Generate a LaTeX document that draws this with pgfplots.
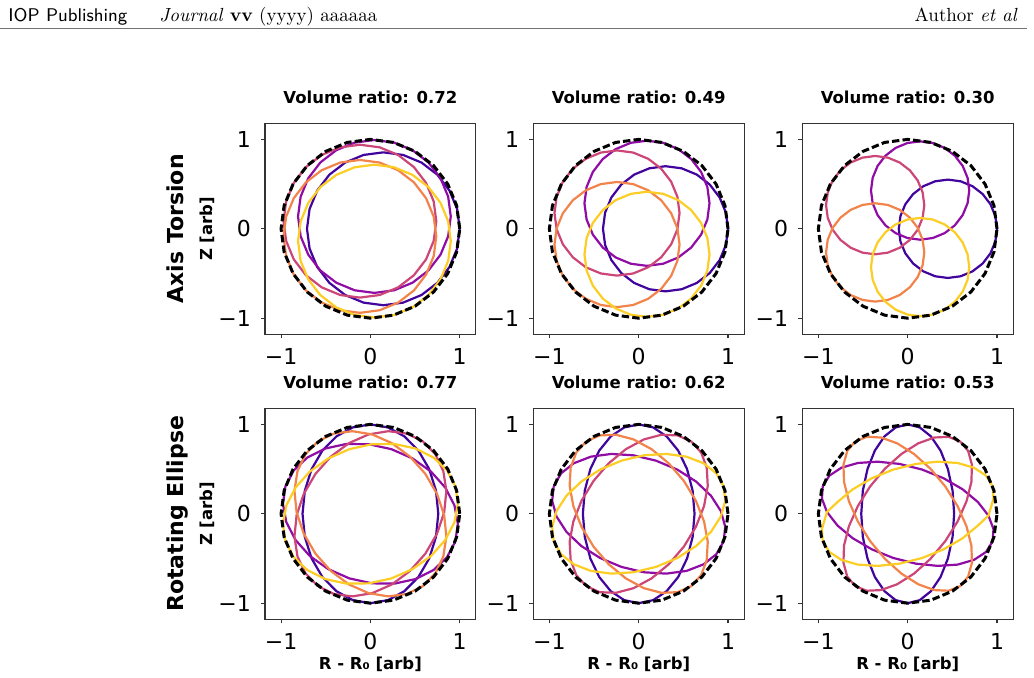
\documentclass[border=0pt]{standalone}
\usepackage{pgfplots}
\pgfplotsset{compat=1.18}
\usepackage{fontspec}
\newfontfamily\dejavu{DejaVu Sans}
\definecolor{cA}{HTML}{41049D}
\definecolor{cB}{HTML}{8F0DA4}
\definecolor{cC}{HTML}{CC4778}
\definecolor{cD}{HTML}{F2844B}
\definecolor{cE}{HTML}{FCCE25}
\pgfplotsset{
  panel/.style={
    scale only axis, width=105.4pt, height=105.5pt,
    anchor=south west,
    xmin=-1.18, xmax=1.18, ymin=-1.18, ymax=1.18,
    xtick={-1,0,1}, ytick={-1,0,1},
    xticklabels={−1,0,1}, yticklabels={−1,0,1},
    minor tick num=0, tick pos=left,
    tick align=outside, major tick length=2pt,
    axis line style={line width=0.55pt, black!80},
    every tick/.style={line width=0.55pt, black!80},
    ticklabel style={font=\dejavu\fontsize{11}{13}\selectfont, inner sep=0pt},
    xticklabel style={anchor=base, yshift=-13.2pt},
    yticklabel style={anchor=east, xshift=-4.9pt},
    title style={font=\dejavu\bfseries\fontsize{8.25}{10}\selectfont, at={(axis description cs:0.5,1.036)}, anchor=base, inner sep=0pt},
    ylabel style={font=\dejavu\bfseries\fontsize{8.25}{10}\selectfont, at={(axis description cs:-0.2476,0.5)}, anchor=base, inner sep=0pt},
    xlabel style={font=\dejavu\bfseries\fontsize{8.25}{10}\selectfont, at={(axis description cs:0.5,-0.2403)}, anchor=base, inner sep=0pt},
  },
  crv/.style={sharp plot, line width=1.1pt, line join=round},
  ucircle/.style={sharp plot, black, dash pattern=on 3.7pt off 1.6pt, line width=1.5pt},
}
\newcommand{\unitcircle}{\addplot[ucircle] coordinates {(1,0) (0.9659,0.2588) (0.866,0.5) (0.7071,0.7071) (0.5,0.866) (0.2588,0.9659) (0,1) (-0.2588,0.9659) (-0.5,0.866) (-0.7071,0.7071) (-0.866,0.5) (-0.9659,0.2588) (-1,0) (-0.9659,-0.2588) (-0.866,-0.5) (-0.7071,-0.7071) (-0.5,-0.866) (-0.2588,-0.9659) (0,-1) (0.2588,-0.9659) (0.5,-0.866) (0.7071,-0.7071) (0.866,-0.5) (0.9659,-0.2588) (1,0)};}
\begin{document}
\begin{tikzpicture}
\useasboundingbox (0,0) rectangle (517pt,339pt);
% page header
\node[anchor=base west, inner sep=0pt, font=\sffamily\fontsize{9.2}{11}\selectfont] at (4pt,328.15pt) {IOP Publishing};
\node[anchor=base west, inner sep=0pt, font=\fontsize{9.5}{11}\selectfont] at (79.5pt,328.15pt) {\textit{Journal} \textbf{vv} (yyyy) aaaaaa};
\node[anchor=base east, inner sep=0pt, font=\fontsize{9.5}{11}\selectfont] at (509pt,328.15pt) {Author \textit{et al}};
\draw[black!55, line width=0.5pt] (0,324.5pt) -- (513.5pt,324.5pt);
% row labels
\node[rotate=90, anchor=base, inner sep=0pt, font=\dejavu\bfseries\fontsize{11}{13}\selectfont] at (91.65pt,224.6pt) {Axis Torsion};
\node[rotate=90, anchor=base, inner sep=0pt, font=\dejavu\bfseries\fontsize{11}{13}\selectfont] at (91.65pt,82.1pt) {Rotating Ellipse};

% ---------- Axis torsion: circles r=0.855, centres 0.145 from the axis
\begin{axis}[panel, at={(132.5pt,171.85pt)}, title={Volume ratio: 0.72}, ylabel={Z [arb]}]
\addplot[crv, cA] coordinates {(1.0,0) (0.9709,0.2213) (0.8854,0.4275) (0.7496,0.6046) (0.5725,0.7404) (0.3663,0.8259) (0.145,0.855) (-0.0763,0.8259) (-0.2825,0.7404) (-0.4596,0.6046) (-0.5954,0.4275) (-0.6809,0.2213) (-0.71,0) (-0.6809,-0.2213) (-0.5954,-0.4275) (-0.4596,-0.6046) (-0.2825,-0.7404) (-0.0763,-0.8259) (0.145,-0.855) (0.3663,-0.8259) (0.5725,-0.7404) (0.7496,-0.6046) (0.8854,-0.4275) (0.9709,-0.2213) (1.0,0)};
\addplot[crv, cB] coordinates {(0.8998,0.1379) (0.8707,0.3592) (0.7852,0.5654) (0.6494,0.7425) (0.4723,0.8783) (0.2661,0.9638) (0.0448,0.9929) (-0.1765,0.9638) (-0.3827,0.8783) (-0.5598,0.7425) (-0.6956,0.5654) (-0.7811,0.3592) (-0.8102,0.1379) (-0.7811,-0.0834) (-0.6956,-0.2896) (-0.5598,-0.4667) (-0.3827,-0.6025) (-0.1765,-0.6880) (0.0448,-0.7171) (0.2661,-0.6880) (0.4723,-0.6025) (0.6494,-0.4667) (0.7852,-0.2896) (0.8707,-0.0834) (0.8998,0.1379)};
\addplot[crv, cC] coordinates {(0.7377,0.0852) (0.7086,0.3065) (0.6231,0.5127) (0.4873,0.6898) (0.3102,0.8256) (0.1040,0.9111) (-0.1173,0.9402) (-0.3386,0.9111) (-0.5448,0.8256) (-0.7219,0.6898) (-0.8577,0.5127) (-0.9432,0.3065) (-0.9723,0.0852) (-0.9432,-0.1361) (-0.8577,-0.3423) (-0.7219,-0.5194) (-0.5448,-0.6552) (-0.3386,-0.7407) (-0.1173,-0.7698) (0.1040,-0.7407) (0.3102,-0.6552) (0.4873,-0.5194) (0.6231,-0.3423) (0.7086,-0.1361) (0.7377,0.0852)};
\addplot[crv, cD] coordinates {(0.7377,-0.0852) (0.7086,0.1361) (0.6231,0.3423) (0.4873,0.5194) (0.3102,0.6552) (0.1040,0.7407) (-0.1173,0.7698) (-0.3386,0.7407) (-0.5448,0.6552) (-0.7219,0.5194) (-0.8577,0.3423) (-0.9432,0.1361) (-0.9723,-0.0852) (-0.9432,-0.3065) (-0.8577,-0.5127) (-0.7219,-0.6898) (-0.5448,-0.8256) (-0.3386,-0.9111) (-0.1173,-0.9402) (0.1040,-0.9111) (0.3102,-0.8256) (0.4873,-0.6898) (0.6231,-0.5127) (0.7086,-0.3065) (0.7377,-0.0852)};
\addplot[crv, cE] coordinates {(0.8998,-0.1379) (0.8707,0.0834) (0.7852,0.2896) (0.6494,0.4667) (0.4723,0.6025) (0.2661,0.6880) (0.0448,0.7171) (-0.1765,0.6880) (-0.3827,0.6025) (-0.5598,0.4667) (-0.6956,0.2896) (-0.7811,0.0834) (-0.8102,-0.1379) (-0.7811,-0.3592) (-0.6956,-0.5654) (-0.5598,-0.7425) (-0.3827,-0.8783) (-0.1765,-0.9638) (0.0448,-0.9929) (0.2661,-0.9638) (0.4723,-0.8783) (0.6494,-0.7425) (0.7852,-0.5654) (0.8707,-0.3592) (0.8998,-0.1379)};
\unitcircle
\end{axis}
% ---------- r=0.7, offset 0.3
\begin{axis}[panel, at={(266.65pt,171.85pt)}, title={Volume ratio: 0.49}]
\addplot[crv, cA] coordinates {(1.0,0) (0.9761,0.1812) (0.9062,0.35) (0.795,0.495) (0.65,0.6062) (0.4812,0.6761) (0.3,0.7) (0.1188,0.6761) (-0.05,0.6062) (-0.195,0.495) (-0.3062,0.35) (-0.3761,0.1812) (-0.4,0) (-0.3761,-0.1812) (-0.3062,-0.35) (-0.195,-0.495) (-0.05,-0.6062) (0.1188,-0.6761) (0.3,-0.7) (0.4812,-0.6761) (0.65,-0.6062) (0.795,-0.495) (0.9062,-0.35) (0.9761,-0.1812) (1.0,0)};
\addplot[crv, cB] coordinates {(0.7927,0.2853) (0.7688,0.4665) (0.6989,0.6353) (0.5877,0.7803) (0.4427,0.8915) (0.2739,0.9614) (0.0927,0.9853) (-0.0885,0.9614) (-0.2573,0.8915) (-0.4023,0.7803) (-0.5135,0.6353) (-0.5834,0.4665) (-0.6073,0.2853) (-0.5834,0.1041) (-0.5135,-0.0647) (-0.4023,-0.2097) (-0.2573,-0.3209) (-0.0885,-0.3908) (0.0927,-0.4147) (0.2739,-0.3908) (0.4427,-0.3209) (0.5877,-0.2097) (0.6989,-0.0647) (0.7688,0.1041) (0.7927,0.2853)};
\addplot[crv, cC] coordinates {(0.4573,0.1763) (0.4334,0.3575) (0.3635,0.5263) (0.2523,0.6713) (0.1073,0.7825) (-0.0615,0.8524) (-0.2427,0.8763) (-0.4239,0.8524) (-0.5927,0.7825) (-0.7377,0.6713) (-0.8489,0.5263) (-0.9188,0.3575) (-0.9427,0.1763) (-0.9188,-0.0049) (-0.8489,-0.1737) (-0.7377,-0.3187) (-0.5927,-0.4299) (-0.4239,-0.4998) (-0.2427,-0.5237) (-0.0615,-0.4998) (0.1073,-0.4299) (0.2523,-0.3187) (0.3635,-0.1737) (0.4334,-0.0049) (0.4573,0.1763)};
\addplot[crv, cD] coordinates {(0.4573,-0.1763) (0.4334,0.0049) (0.3635,0.1737) (0.2523,0.3187) (0.1073,0.4299) (-0.0615,0.4998) (-0.2427,0.5237) (-0.4239,0.4998) (-0.5927,0.4299) (-0.7377,0.3187) (-0.8489,0.1737) (-0.9188,0.0049) (-0.9427,-0.1763) (-0.9188,-0.3575) (-0.8489,-0.5263) (-0.7377,-0.6713) (-0.5927,-0.7825) (-0.4239,-0.8524) (-0.2427,-0.8763) (-0.0615,-0.8524) (0.1073,-0.7825) (0.2523,-0.6713) (0.3635,-0.5263) (0.4334,-0.3575) (0.4573,-0.1763)};
\addplot[crv, cE] coordinates {(0.7927,-0.2853) (0.7688,-0.1041) (0.6989,0.0647) (0.5877,0.2097) (0.4427,0.3209) (0.2739,0.3908) (0.0927,0.4147) (-0.0885,0.3908) (-0.2573,0.3209) (-0.4023,0.2097) (-0.5135,0.0647) (-0.5834,-0.1041) (-0.6073,-0.2853) (-0.5834,-0.4665) (-0.5135,-0.6353) (-0.4023,-0.7803) (-0.2573,-0.8915) (-0.0885,-0.9614) (0.0927,-0.9853) (0.2739,-0.9614) (0.4427,-0.8915) (0.5877,-0.7803) (0.6989,-0.6353) (0.7688,-0.4665) (0.7927,-0.2853)};
\unitcircle
\end{axis}
% ---------- r=0.55, offset 0.45
\begin{axis}[panel, at={(401.15pt,171.85pt)}, title={Volume ratio: 0.30}]
\addplot[crv, cA] coordinates {(1.0,0) (0.9812,0.1423) (0.9263,0.275) (0.8389,0.3889) (0.725,0.4763) (0.5923,0.5312) (0.45,0.55) (0.3077,0.5312) (0.175,0.4763) (0.0611,0.3889) (-0.0263,0.275) (-0.0812,0.1423) (-0.1,0) (-0.0812,-0.1423) (-0.0263,-0.275) (0.0611,-0.3889) (0.175,-0.4763) (0.3077,-0.5312) (0.45,-0.55) (0.5923,-0.5312) (0.725,-0.4763) (0.8389,-0.3889) (0.9263,-0.275) (0.9812,-0.1423) (1.0,0)};
\addplot[crv, cB] coordinates {(0.6891,0.428) (0.6703,0.5703) (0.6154,0.703) (0.528,0.8169) (0.4141,0.9043) (0.2814,0.9592) (0.1391,0.978) (-0.0032,0.9592) (-0.1359,0.9043) (-0.2498,0.8169) (-0.3372,0.703) (-0.3921,0.5703) (-0.4109,0.428) (-0.3921,0.2857) (-0.3372,0.153) (-0.2498,0.0391) (-0.1359,-0.0483) (-0.0032,-0.1032) (0.1391,-0.122) (0.2814,-0.1032) (0.4141,-0.0483) (0.528,0.0391) (0.6154,0.153) (0.6703,0.2857) (0.6891,0.428)};
\addplot[crv, cC] coordinates {(0.1859,0.2645) (0.1671,0.4068) (0.1122,0.5395) (0.0248,0.6534) (-0.0891,0.7408) (-0.2218,0.7957) (-0.3641,0.8145) (-0.5064,0.7957) (-0.6391,0.7408) (-0.753,0.6534) (-0.8404,0.5395) (-0.8953,0.4068) (-0.9141,0.2645) (-0.8953,0.1222) (-0.8404,-0.0105) (-0.753,-0.1244) (-0.6391,-0.2118) (-0.5064,-0.2667) (-0.3641,-0.2855) (-0.2218,-0.2667) (-0.0891,-0.2118) (0.0248,-0.1244) (0.1122,-0.0105) (0.1671,0.1222) (0.1859,0.2645)};
\addplot[crv, cD] coordinates {(0.1859,-0.2645) (0.1671,-0.1222) (0.1122,0.0105) (0.0248,0.1244) (-0.0891,0.2118) (-0.2218,0.2667) (-0.3641,0.2855) (-0.5064,0.2667) (-0.6391,0.2118) (-0.753,0.1244) (-0.8404,0.0105) (-0.8953,-0.1222) (-0.9141,-0.2645) (-0.8953,-0.4068) (-0.8404,-0.5395) (-0.753,-0.6534) (-0.6391,-0.7408) (-0.5064,-0.7957) (-0.3641,-0.8145) (-0.2218,-0.7957) (-0.0891,-0.7408) (0.0248,-0.6534) (0.1122,-0.5395) (0.1671,-0.4068) (0.1859,-0.2645)};
\addplot[crv, cE] coordinates {(0.6891,-0.428) (0.6703,-0.2857) (0.6154,-0.153) (0.528,-0.0391) (0.4141,0.0483) (0.2814,0.1032) (0.1391,0.122) (-0.0032,0.1032) (-0.1359,0.0483) (-0.2498,-0.0391) (-0.3372,-0.153) (-0.3921,-0.2857) (-0.4109,-0.428) (-0.3921,-0.5703) (-0.3372,-0.703) (-0.2498,-0.8169) (-0.1359,-0.9043) (-0.0032,-0.9592) (0.1391,-0.978) (0.2814,-0.9592) (0.4141,-0.9043) (0.528,-0.8169) (0.6154,-0.703) (0.6703,-0.5703) (0.6891,-0.428)};
\unitcircle
\end{axis}

% ---------- Rotating ellipse: a=1, b=0.76
\begin{axis}[panel, at={(132.5pt,29.35pt)}, title={Volume ratio: 0.77}, ylabel={Z [arb]}, xlabel={R - R₀ [arb]}]
\addplot[crv, cA] coordinates {(0,1) (-0.1967,0.9659) (-0.38,0.866) (-0.5374,0.7071) (-0.6582,0.5) (-0.7341,0.2588) (-0.76,0) (-0.7341,-0.2588) (-0.6582,-0.5) (-0.5374,-0.7071) (-0.38,-0.866) (-0.1967,-0.9659) (0,-1) (0.1967,-0.9659) (0.38,-0.866) (0.5374,-0.7071) (0.6582,-0.5) (0.7341,-0.2588) (0.76,0) (0.7341,0.2588) (0.6582,0.5) (0.5374,0.7071) (0.38,0.866) (0.1967,0.9659) (0,1)};
\addplot[crv, cB] coordinates {(-0.9511,0.309) (-0.9795,0.1115) (-0.9411,-0.0939) (-0.8386,-0.2926) (-0.679,-0.4715) (-0.473,-0.6182) (-0.2348,-0.7228) (0.0192,-0.7782) (0.2722,-0.7805) (0.5064,-0.7296) (0.7063,-0.6291) (0.8579,-0.4855) (0.9511,-0.309) (0.9795,-0.1115) (0.9411,0.0939) (0.8386,0.2926) (0.679,0.4715) (0.473,0.6182) (0.2348,0.7228) (-0.0192,0.7782) (-0.2722,0.7805) (-0.5064,0.7296) (-0.7063,0.6291) (-0.8579,0.4855) (-0.9511,0.309)};
\addplot[crv, cC] coordinates {(0.5878,0.809) (0.4087,0.897) (0.2016,0.924) (-0.0192,0.888) (-0.2386,0.7913) (-0.4418,0.6409) (-0.6148,0.4467) (-0.746,0.2221) (-0.8264,-0.0177) (-0.8504,-0.2562) (-0.8164,-0.4772) (-0.7269,-0.6658) (-0.5878,-0.809) (-0.4087,-0.897) (-0.2016,-0.924) (0.0192,-0.888) (0.2386,-0.7913) (0.4418,-0.6409) (0.6148,-0.4467) (0.746,-0.2221) (0.8264,0.0177) (0.8504,0.2562) (0.8164,0.4772) (0.7269,0.6658) (0.5878,0.809)};
\addplot[crv, cD] coordinates {(-0.5878,0.809) (-0.4087,0.897) (-0.2016,0.924) (0.0192,0.888) (0.2386,0.7913) (0.4418,0.6409) (0.6148,0.4467) (0.746,0.2221) (0.8264,-0.0177) (0.8504,-0.2562) (0.8164,-0.4772) (0.7269,-0.6658) (0.5878,-0.809) (0.4087,-0.897) (0.2016,-0.924) (-0.0192,-0.888) (-0.2386,-0.7913) (-0.4418,-0.6409) (-0.6148,-0.4467) (-0.746,-0.2221) (-0.8264,0.0177) (-0.8504,0.2562) (-0.8164,0.4772) (-0.7269,0.6658) (-0.5878,0.809)};
\addplot[crv, cE] coordinates {(0.9511,0.309) (0.9795,0.1115) (0.9411,-0.0939) (0.8386,-0.2926) (0.679,-0.4715) (0.473,-0.6182) (0.2348,-0.7228) (-0.0192,-0.7782) (-0.2722,-0.7805) (-0.5064,-0.7296) (-0.7063,-0.6291) (-0.8579,-0.4855) (-0.9511,-0.309) (-0.9795,-0.1115) (-0.9411,0.0939) (-0.8386,0.2926) (-0.679,0.4715) (-0.473,0.6182) (-0.2348,0.7228) (0.0192,0.7782) (0.2722,0.7805) (0.5064,0.7296) (0.7063,0.6291) (0.8579,0.4855) (0.9511,0.309)};
\unitcircle
\end{axis}
% ---------- b=0.625
\begin{axis}[panel, at={(266.65pt,29.35pt)}, title={Volume ratio: 0.62}, xlabel={R - R₀ [arb]}]
\addplot[crv, cA] coordinates {(0,1) (-0.1618,0.9659) (-0.3125,0.866) (-0.4419,0.7071) (-0.5413,0.5) (-0.6037,0.2588) (-0.625,0) (-0.6037,-0.2588) (-0.5413,-0.5) (-0.4419,-0.7071) (-0.3125,-0.866) (-0.1618,-0.9659) (0,-1) (0.1618,-0.9659) (0.3125,-0.866) (0.4419,-0.7071) (0.5413,-0.5) (0.6037,-0.2588) (0.625,0) (0.6037,0.2588) (0.5413,0.5) (0.4419,0.7071) (0.3125,0.866) (0.1618,0.9659) (0,1)};
\addplot[crv, cB] coordinates {(-0.9511,0.309) (-0.9687,0.1447) (-0.9203,-0.0297) (-0.8091,-0.2018) (-0.6429,-0.3603) (-0.4327,-0.4942) (-0.1931,-0.5944) (0.0595,-0.6542) (0.3083,-0.6693) (0.5359,-0.6388) (0.7271,-0.5649) (0.8687,-0.4523) (0.9511,-0.309) (0.9687,-0.1447) (0.9203,0.0297) (0.8091,0.2018) (0.6429,0.3603) (0.4327,0.4942) (0.1931,0.5944) (-0.0595,0.6542) (-0.3083,0.6693) (-0.5359,0.6388) (-0.7271,0.5649) (-0.8687,0.4523) (-0.9511,0.309)};
\addplot[crv, cC] coordinates {(0.5878,0.809) (0.4369,0.8765) (0.2562,0.8843) (0.058,0.8319) (-0.144,0.7226) (-0.3363,0.5643) (-0.5056,0.3674) (-0.6405,0.1455) (-0.7318,-0.0864) (-0.7732,-0.3123) (-0.7618,-0.5169) (-0.6987,-0.6863) (-0.5878,-0.809) (-0.4369,-0.8765) (-0.2562,-0.8843) (-0.058,-0.8319) (0.144,-0.7226) (0.3363,-0.5643) (0.5056,-0.3674) (0.6405,-0.1455) (0.7318,0.0864) (0.7732,0.3123) (0.7618,0.5169) (0.6987,0.6863) (0.5878,0.809)};
\addplot[crv, cD] coordinates {(-0.5878,0.809) (-0.4369,0.8765) (-0.2562,0.8843) (-0.058,0.8319) (0.144,0.7226) (0.3363,0.5643) (0.5056,0.3674) (0.6405,0.1455) (0.7318,-0.0864) (0.7732,-0.3123) (0.7618,-0.5169) (0.6987,-0.6863) (0.5878,-0.809) (0.4369,-0.8765) (0.2562,-0.8843) (0.058,-0.8319) (-0.144,-0.7226) (-0.3363,-0.5643) (-0.5056,-0.3674) (-0.6405,-0.1455) (-0.7318,0.0864) (-0.7732,0.3123) (-0.7618,0.5169) (-0.6987,0.6863) (-0.5878,0.809)};
\addplot[crv, cE] coordinates {(0.9511,0.309) (0.9687,0.1447) (0.9203,-0.0297) (0.8091,-0.2018) (0.6429,-0.3603) (0.4327,-0.4942) (0.1931,-0.5944) (-0.0595,-0.6542) (-0.3083,-0.6693) (-0.5359,-0.6388) (-0.7271,-0.5649) (-0.8687,-0.4523) (-0.9511,-0.309) (-0.9687,-0.1447) (-0.9203,0.0297) (-0.8091,0.2018) (-0.6429,0.3603) (-0.4327,0.4942) (-0.1931,0.5944) (0.0595,0.6542) (0.3083,0.6693) (0.5359,0.6388) (0.7271,0.5649) (0.8687,0.4523) (0.9511,0.309)};
\unitcircle
\end{axis}
% ---------- b=0.52
\begin{axis}[panel, at={(401.15pt,29.35pt)}, title={Volume ratio: 0.53}, xlabel={R - R₀ [arb]}]
\addplot[crv, cA] coordinates {(0,1) (-0.1346,0.9659) (-0.26,0.866) (-0.3677,0.7071) (-0.4503,0.5) (-0.5023,0.2588) (-0.52,0) (-0.5023,-0.2588) (-0.4503,-0.5) (-0.3677,-0.7071) (-0.26,-0.866) (-0.1346,-0.9659) (0,-1) (0.1346,-0.9659) (0.26,-0.866) (0.3677,-0.7071) (0.4503,-0.5) (0.5023,-0.2588) (0.52,0) (0.5023,0.2588) (0.4503,0.5) (0.3677,0.7071) (0.26,0.866) (0.1346,0.9659) (0,1)};
\addplot[crv, cB] coordinates {(-0.9511,0.309) (-0.9603,0.1705) (-0.904,0.0203) (-0.7861,-0.1312) (-0.6148,-0.2738) (-0.4013,-0.3977) (-0.1607,-0.4946) (0.0909,-0.5577) (0.3364,-0.5828) (0.5589,-0.5682) (0.7434,-0.5149) (0.8771,-0.4265) (0.9511,-0.309) (0.9603,-0.1705) (0.904,-0.0203) (0.7861,0.1312) (0.6148,0.2738) (0.4013,0.3977) (0.1607,0.4946) (-0.0909,0.5577) (-0.3364,0.5828) (-0.5589,0.5682) (-0.7434,0.5149) (-0.8771,0.4265) (-0.9511,0.309)};
\addplot[crv, cC] coordinates {(0.5878,0.809) (0.4589,0.8605) (0.2987,0.8534) (0.1181,0.7882) (-0.0704,0.6692) (-0.2542,0.5047) (-0.4207,0.3057) (-0.5584,0.0859) (-0.6582,-0.1398) (-0.7131,-0.356) (-0.7193,-0.5478) (-0.6767,-0.7023) (-0.5878,-0.809) (-0.4589,-0.8605) (-0.2987,-0.8534) (-0.1181,-0.7882) (0.0704,-0.6692) (0.2542,-0.5047) (0.4207,-0.3057) (0.5584,-0.0859) (0.6582,0.1398) (0.7131,0.356) (0.7193,0.5478) (0.6767,0.7023) (0.5878,0.809)};
\addplot[crv, cD] coordinates {(-0.5878,0.809) (-0.4589,0.8605) (-0.2987,0.8534) (-0.1181,0.7882) (0.0704,0.6692) (0.2542,0.5047) (0.4207,0.3057) (0.5584,0.0859) (0.6582,-0.1398) (0.7131,-0.356) (0.7193,-0.5478) (0.6767,-0.7023) (0.5878,-0.809) (0.4589,-0.8605) (0.2987,-0.8534) (0.1181,-0.7882) (-0.0704,-0.6692) (-0.2542,-0.5047) (-0.4207,-0.3057) (-0.5584,-0.0859) (-0.6582,0.1398) (-0.7131,0.356) (-0.7193,0.5478) (-0.6767,0.7023) (-0.5878,0.809)};
\addplot[crv, cE] coordinates {(0.9511,0.309) (0.9603,0.1705) (0.904,-0.0203) (0.7861,-0.1312) (0.6148,-0.2738) (0.4013,-0.3977) (0.1607,-0.4946) (-0.0909,-0.5577) (-0.3364,-0.5828) (-0.5589,-0.5682) (-0.7434,-0.5149) (-0.8771,-0.4265) (-0.9511,-0.309) (-0.9603,-0.1705) (-0.904,0.0203) (-0.7861,0.1312) (-0.6148,0.2738) (-0.4013,0.3977) (-0.1607,0.4946) (0.0909,0.5577) (0.3364,0.5828) (0.5589,0.5682) (0.7434,0.5149) (0.8771,0.4265) (0.9511,0.309)};
\unitcircle
\end{axis}
\end{tikzpicture}
\end{document}
